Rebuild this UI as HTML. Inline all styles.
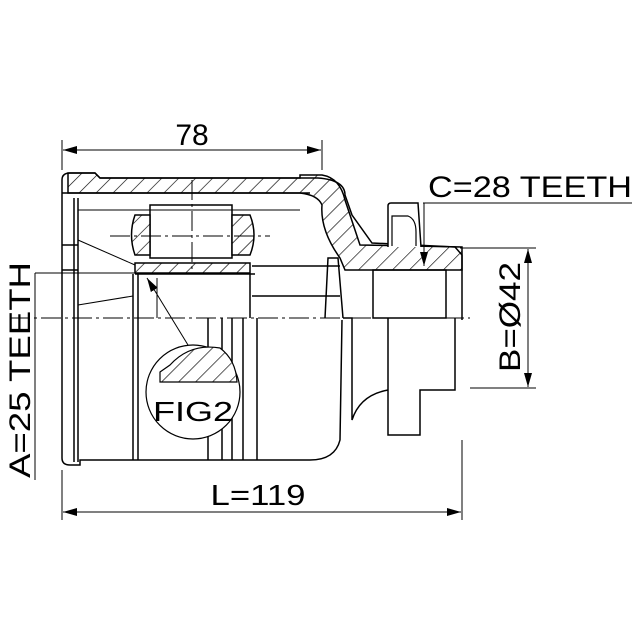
<!DOCTYPE html>
<html><head><style>html,body{margin:0;padding:0;background:#fff}svg{display:block}</style></head>
<body>
<svg width="640" height="640" viewBox="0 0 640 640" xmlns="http://www.w3.org/2000/svg" font-family="Liberation Sans, sans-serif">
<defs>
<pattern id="h" patternUnits="userSpaceOnUse" width="12" height="12" patternTransform="rotate(45)">
<rect width="12" height="12" fill="#fff"/><line x1="0" y1="0" x2="0" y2="12" stroke="#000" stroke-width="1.3"/></pattern>
<marker id="a" markerWidth="14" markerHeight="8" refX="14" refY="4" orient="auto" markerUnits="userSpaceOnUse"><path d="M0,0 L14,4 L0,8 z" fill="#000"/></marker>
</defs>
<g fill="none" stroke="#000" stroke-width="1.5">
<line x1="62" y1="140" x2="62" y2="170" stroke-width="1"/>
<line x1="322" y1="140" x2="322" y2="170" stroke-width="1"/>
<line x1="300" y1="150" x2="63" y2="150" marker-end="url(#a)" stroke-width="1"/>
<line x1="100" y1="150" x2="321" y2="150" marker-end="url(#a)" stroke-width="1"/>
<line x1="62" y1="470" x2="62" y2="520" stroke-width="1"/>
<line x1="462" y1="440" x2="462" y2="520" stroke-width="1"/>
<line x1="300" y1="512" x2="63" y2="512" marker-end="url(#a)" stroke-width="1"/>
<line x1="100" y1="512" x2="461" y2="512" marker-end="url(#a)" stroke-width="1"/>
<path d="M68,173 L95,173 L100,178 L300,178 L300,175 L322,175 Q340,178 345,200 L360,245 L462,247 L462,270 L345,270 L340,258 Q320,230 322,205 Q318,195 300,193 L68,193 Z" fill="url(#h)"/>
<path d="M62,180 Q62,173 70,173 L95,173 L100,178 L318,178 Q345,180 345,195 L352,215 L372,243 L455,247 L462,255 L462,320" />
<path d="M388,247 L388,206 Q388,203 391,203 L418,203 L421,247" fill="#fff"/>
<path d="M392,246 L392,216 L408,216 Q416,219 416,232 L416,246" stroke-width="1.2"/>
<path d="M62,180 L62,458 Q62,465 70,465 L80,465 L80,460 L310,460 Q335,460 340,440 L342,320"/>
<path d="M62,193 L310,193" />
<line x1="74" y1="198" x2="74" y2="462"/><line x1="78" y1="198" x2="78" y2="462"/>
<line x1="62" y1="245" x2="78" y2="245"/><line x1="62" y1="270" x2="78" y2="270"/>
<line x1="78" y1="210" x2="300" y2="210" stroke-width="1"/>
<rect x="150" y="205" width="82" height="53"/>
<path d="M135,215 L150,215 L150,255 L135,255 Q128,235 135,215 Z" fill="url(#h)"/>
<path d="M232,215 L250,215 Q258,235 250,255 L232,255 Z" fill="url(#h)"/>
<rect x="135" y="263" width="115" height="10" fill="url(#h)"/>
<line x1="135" y1="274" x2="255" y2="274"/>
<line x1="252" y1="266" x2="340" y2="266"/>
<line x1="252" y1="296" x2="340" y2="296"/>
<line x1="78" y1="240" x2="135" y2="265" stroke-width="1"/>
<line x1="78" y1="305" x2="133" y2="296" stroke-width="1"/>
<line x1="133" y1="274" x2="133" y2="460"/><line x1="138" y1="274" x2="138" y2="460"/>
<line x1="157" y1="278" x2="157" y2="318" stroke-width="1"/>
<line x1="250" y1="274" x2="250" y2="318"/>
<line x1="208" y1="318" x2="208" y2="460"/><line x1="222" y1="318" x2="222" y2="460"/>
<line x1="232" y1="318" x2="232" y2="460"/><line x1="243" y1="318" x2="243" y2="460"/>
<line x1="257" y1="318" x2="257" y2="460"/>
<path d="M325,318 L328,258 L338,258 L343,318"/>
<path d="M343,318 L352,318 L352,420 Q360,395 388,390"/>
<rect x="373" y="270" width="73" height="48"/>
<path d="M388,318 L388,435 L420,435 L420,390 L455,390 L455,318"/>
<line x1="10" y1="318" x2="470" y2="318" stroke-width="1" stroke-dasharray="20,4,3,4"/>
<line x1="110" y1="236" x2="270" y2="236" stroke-width="1" stroke-dasharray="20,4,3,4"/>
<line x1="192" y1="180" x2="192" y2="270" stroke-width="1" stroke-dasharray="20,4,3,4"/>
<line x1="423" y1="203" x2="632" y2="203" stroke-width="1"/>
<line x1="424" y1="203" x2="424" y2="266" marker-end="url(#a)" stroke-width="1"/>
<line x1="460" y1="248" x2="536" y2="248" stroke-width="1"/>
<line x1="470" y1="388" x2="536" y2="388" stroke-width="1"/>
<line x1="528" y1="320" x2="528" y2="249" marker-end="url(#a)" stroke-width="1"/>
<line x1="528" y1="300" x2="528" y2="387" marker-end="url(#a)" stroke-width="1"/>
<line x1="35" y1="273" x2="140" y2="273" stroke-width="1"/>
<line x1="35" y1="273" x2="35" y2="480" stroke-width="1"/>
<line x1="188" y1="345" x2="147" y2="278" marker-end="url(#a)" stroke-width="1"/>
<circle cx="193" cy="392" r="47" fill="#fff" stroke-width="1.2"/>
<path d="M160,372 L170,365 Q190,343 220,348 Q236,360 237,382 L160,382 Z" fill="url(#h)" stroke-width="1.2"/>
</g>
<g fill="#000">
<text x="192" y="145" font-size="30" text-anchor="middle">78</text>
<text x="258" y="505" font-size="29" text-anchor="middle" textLength="95" lengthAdjust="spacingAndGlyphs">L=119</text>
<text x="530" y="197" font-size="30" text-anchor="middle" textLength="204" lengthAdjust="spacingAndGlyphs">C=28 TEETH</text>
<text x="193" y="421" font-size="28" text-anchor="middle" textLength="80" lengthAdjust="spacingAndGlyphs">FIG2</text>
<text transform="translate(520,317) rotate(-90)" font-size="30" text-anchor="middle" textLength="110" lengthAdjust="spacingAndGlyphs">B=Ø42</text>
<text transform="translate(30,370) rotate(-90)" font-size="30" text-anchor="middle" textLength="216" lengthAdjust="spacingAndGlyphs">A=25 TEETH</text>
</g>
</svg>
</body></html>
